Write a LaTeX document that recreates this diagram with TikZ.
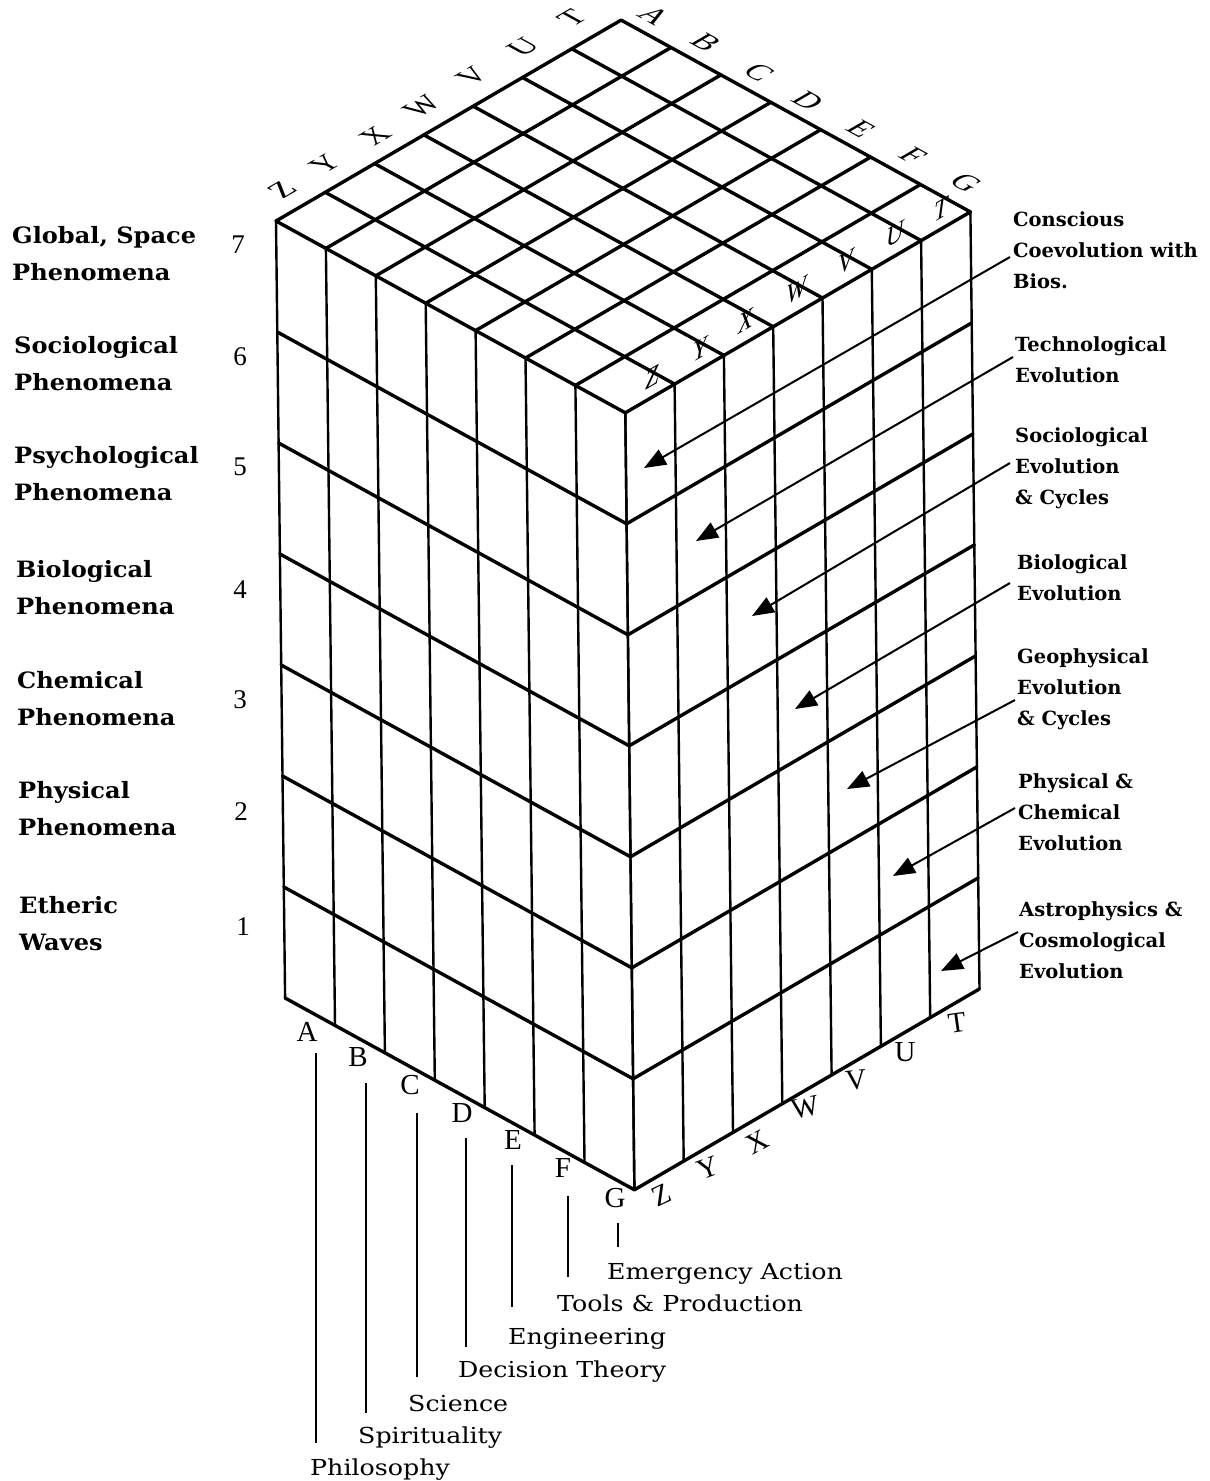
\documentclass[tikz,border=0pt]{standalone}
\usepackage{fontspec}
\setmainfont{DejaVu Serif}
\newfontfamily\labfont[FakeStretch=1.07]{DejaVu Serif Bold}
\newfontfamily\rlabfont{DejaVu Serif Bold}
\newfontfamily\botfont[FakeStretch=1.15]{DejaVu Serif}
\newfontfamily\letfont{Liberation Serif}
\usetikzlibrary{arrows.meta}
\begin{document}
\begin{tikzpicture}[x=1pt,y=-1pt,
  gridline/.style={line width=3.4pt, line cap=round, line join=round},
  vline/.style={line width=2.4pt, line cap=round},
  lead/.style={line width=2.2pt},
  arr/.style={line width=2pt, -{Triangle[length=22pt,width=17pt]}},
  lab/.style={font=\rlabfont\fontsize{19.5}{31}\selectfont, align=left, inner sep=0pt, anchor=north west},
  llab/.style={font=\labfont\fontsize{22.5}{37}\selectfont, align=left, inner sep=0pt, anchor=north west},
  blab/.style={font=\botfont\fontsize{22}{25}\selectfont, inner sep=0pt, anchor=base west},
  num/.style={font=\letfont\fontsize{27}{29}\selectfont, inner sep=0pt},
  flet/.style={font=\letfont\fontsize{29}{31}\selectfont, inner sep=0pt},
  tlet/.style={font=\letfont\fontsize{31}{33}\selectfont, inner sep=0pt},
  ilet/.style={font=\letfont\itshape\fontsize{28}{30}\selectfont, inner sep=0pt},
  topL/.style={cm={0.864,0.503,-0.877,0.481,(0,0)}},
  topR/.style={cm={0.877,-0.481,0.864,0.503,(0,0)}},
  inR/.style={cm={0.864,0.503,0,1,(0,0)}}
]
\useasboundingbox[fill=white] (0,0) rectangle (1210,1481);

% ---- top face grid ----
\foreach \i in {0,...,7} {
  \draw[gridline] ({276+\i*49.9},{221+\i*27.4}) -- ++(345.1,-200.9);
  \draw[gridline] ({276+\i*49.3},{221-\i*28.7}) -- ++(349.3,191.8);
}
% ---- left face ----
\foreach \i in {0,...,7} {
  \draw[vline] ({276+\i*49.9},{221+\i*27.4}) -- ++(9.1,777);
}
\foreach \k in {1,...,7} {
  \draw[gridline] ({276+\k*1.3},{221+\k*111}) -- ++(349.3,191.8);
}
% ---- right face ----
\foreach \j in {0,...,7} {
  \draw[vline] ({625.3+\j*49.3},{412.8-\j*28.7}) -- ++(9.1,777);
}
\foreach \k in {1,...,7} {
  \draw[gridline] ({625.3+\k*1.3},{412.8+\k*111}) -- ++(345.1,-200.9);
}

% ---- top face letters, back-left edge ----
\foreach \t/\x/\y [count=\n] in {Z/282/190,Y/325/164,X/375/136,W/422/106,V/472/76,U/523/47,T/572/18} {
  \begin{scope}[shift={(\x,\y)}, topL]
    \node[tlet, transform shape] (tl\n) at (0,0) {\t};
  \end{scope}
}
% ---- top face letters, back-right edge ----
\foreach \t/\x/\y [count=\n] in {A/654/16,B/706/42,C/759/72,D/808/101,E/861/129,F/913/156,G/966/183} {
  \begin{scope}[shift={(\x,\y)}, topR]
    \node[tlet, transform shape] (tr\n) at (0,0) {\t};
  \end{scope}
}
% ---- inner letters near front-right top edge ----
\foreach \t/\x/\y [count=\n] in {Z/652/377,Y/700/349,X/746/321,W/797/291,V/846/262,U/895/234,T/941/209} {
  \begin{scope}[shift={(\x,\y)}, inR]
    \node[ilet, transform shape] (ti\n) at (0,0) {\t};
  \end{scope}
}

% ---- bottom letters ----
\foreach \t/\x/\y [count=\n] in {A/307/1032,B/358/1057,C/410/1085,D/462/1113,E/513/1140,F/563/1168,G/615/1198} {
  \node[flet] (bl\n) at (\x,\y) {\t};
}
\foreach \t/\x/\y/\r [count=\n] in {Z/662/1195/25,Y/708/1168/20,X/757/1142/28,W/805/1108/12,V/856/1080/6,U/905/1052/0,T/957/1023/8} {
  \node[flet, rotate=\r] (br\n) at (\x,\y) {\t};
}

% ---- layer numbers ----
\foreach \t/\x/\y in {7/238/245,6/240/357,5/240/467,4/240/590,3/240/700,2/241/812,1/243/927} {
  \node[num] (n\t) at (\x,\y) {\t};
}

% ---- left labels ----
\node[llab] (L7) at (12,226) {Global, Space\\Phenomena};
\node[llab] (L6) at (14,336) {Sociological\\Phenomena};
\node[llab] (L5) at (14,446) {Psychological\\Phenomena};
\node[llab] (L4) at (16,560) {Biological\\Phenomena};
\node[llab] (L3) at (17,671) {Chemical\\Phenomena};
\node[llab] (L2) at (18,781) {Physical\\Phenomena};
\node[llab] (L1) at (19,896) {Etheric\\Waves};

% ---- right labels ----
\node[lab] (R1) at (1013,211) {Conscious\\Coevolution with\\Bios.};
\node[lab] (R2) at (1015,336) {Technological\\Evolution};
\node[lab] (R3) at (1015,427) {Sociological\\Evolution\\\& Cycles};
\node[lab] (R4) at (1017,554) {Biological\\Evolution};
\node[lab] (R5) at (1017,648) {Geophysical\\Evolution\\\& Cycles};
\node[lab] (R6) at (1018,773) {Physical \&\\Chemical\\Evolution};
\node[lab] (R7) at (1019,901) {Astrophysics \&\\Cosmological\\Evolution};

% ---- arrows ----
\foreach \sx/\sy/\tx/\ty [count=\n] in {1010/257/644/468, 1013/357/696/541, 1010/463/752/616, 1010/583/795/709, 1015/700/847/789, 1015/808/893/876, 1018/932/941/971} {
  \coordinate (as\n) at (\sx,\sy);
  \coordinate (at\n) at (\tx,\ty);
  \draw[arr] (as\n) -- (at\n);
}

% ---- bottom labels & leaders ----
\foreach \x/\ya/\yb [count=\n] in {316/1053/1443, 366/1083/1413, 417/1113/1377, 466/1138/1347, 512/1165/1307, 568/1196/1277, 618/1223/1247} {
  \coordinate (ls\n) at (\x,\ya);
  \coordinate (le\n) at (\x,\yb);
  \draw[lead] (ls\n) -- (le\n);
}
\node[blab] (B1) at (310,1475) {Philosophy};
\node[blab] (B2) at (358,1443) {Spirituality};
\node[blab] (B3) at (408,1411) {Science};
\node[blab] (B4) at (458,1377) {Decision Theory};
\node[blab] (B5) at (508,1344) {Engineering};
\node[blab] (B6) at (557,1311) {Tools \& Production};
\node[blab] (B7) at (607,1279) {Emergency Action};
\end{tikzpicture}
\end{document}
